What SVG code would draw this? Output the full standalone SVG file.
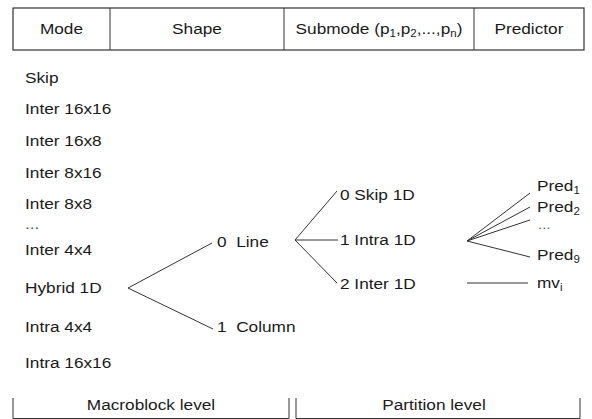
<svg xmlns="http://www.w3.org/2000/svg" width="592" height="419" viewBox="0 0 592 419">
  <style>
    text { font-family: "Liberation Sans", Arial, sans-serif; font-size: 15px; fill: #1a1a1a;
           transform-box: fill-box; transform: scaleX(1.15); }
    .s { transform-origin: left center; }
    .m { text-anchor: middle; transform-origin: center; }
    .sub { font-size: 10px; }
    .dots { font-size: 13px; fill: #555; }
    .ln { stroke: #333; stroke-width: 1; fill: none; }
    .box { stroke: #333; stroke-width: 1.2; fill: #fff; }
  </style>

  <!-- header table -->
  <g id="header">
    <rect class="box" x="13" y="8" width="571" height="42"/>
    <line class="ln" x1="110" y1="8" x2="110" y2="50"/>
    <line class="ln" x1="284" y1="8" x2="284" y2="50"/>
    <line class="ln" x1="474" y1="8" x2="474" y2="50"/>
    <text class="m" x="61.5" y="34">Mode</text>
    <text class="m" x="197" y="34">Shape</text>
    <text class="m" x="379" y="34">Submode (p<tspan class="sub" dy="3">1</tspan><tspan dy="-3">,p</tspan><tspan class="sub" dy="3">2</tspan><tspan dy="-3">,...,p</tspan><tspan class="sub" dy="3">n</tspan><tspan dy="-3">)</tspan></text>
    <text class="m" x="529" y="34">Predictor</text>
  </g>

  <!-- macroblock modes -->
  <g id="modes">
    <text class="s" x="25" y="83">Skip</text>
    <text class="s" x="25" y="114">Inter 16x16</text>
    <text class="s" x="25" y="146">Inter 16x8</text>
    <text class="s" x="25" y="178">Inter 8x16</text>
    <text class="s" x="25" y="209">Inter 8x8</text>
    <text class="s dots" x="25" y="229" style="font-size:15px">...</text>
    <text class="s" x="25" y="255">Inter 4x4</text>
    <text class="s" x="25" y="332">Intra 4x4</text>
    <text class="s" x="25" y="368">Intra 16x16</text>
  </g>
  <g id="hybrid"><text class="s" x="25" y="293">Hybrid 1D</text></g>

  <!-- shapes -->
  <g id="line"><text class="s" x="217" y="247" style="white-space:pre">0  Line</text></g>
  <g id="column"><text class="s" x="217" y="332" style="white-space:pre">1  Column</text></g>

  <!-- submodes -->
  <g id="skip1d"><text class="s" x="340" y="200">0 Skip 1D</text></g>
  <g id="intra1d"><text class="s" x="340" y="245">1 Intra 1D</text></g>
  <g id="inter1d"><text class="s" x="340" y="289">2 Inter 1D</text></g>

  <!-- predictors -->
  <g id="pred1"><text class="s" x="537" y="191">Pred<tspan class="sub" dy="3">1</tspan></text></g>
  <g id="pred2"><text class="s" x="537" y="212">Pred<tspan class="sub" dy="3">2</tspan></text></g>
  <g id="predDots"><text class="s dots" x="538" y="229">...</text></g>
  <g id="pred9"><text class="s" x="537" y="260">Pred<tspan class="sub" dy="3">9</tspan></text></g>
  <g id="mv"><text class="s" x="537" y="288">mv<tspan class="sub" dy="3">i</tspan></text></g>

  <!-- level brackets -->
  <g id="mbLevel">
    <path class="ln" d="M13,398 V418.5 H289 V398"/>
    <text class="m" x="151" y="410">Macroblock level</text>
  </g>
  <g id="partLevel">
    <path class="ln" d="M296,398 V418.5 H580 V398"/>
    <text class="m" x="434" y="410">Partition level</text>
  </g>

  <!-- tree connectors -->
  <g id="connectors" class="ln">
    <line class="ln" x1="128" y1="288" x2="212" y2="243"/>
    <line class="ln" x1="128" y1="288" x2="213" y2="329"/>
    <line class="ln" x1="295" y1="240" x2="337" y2="191"/>
    <line class="ln" x1="295" y1="240" x2="338" y2="240"/>
    <line class="ln" x1="295" y1="240" x2="337" y2="283"/>
    <line class="ln" x1="467" y1="241" x2="530" y2="193"/>
    <line class="ln" x1="467" y1="241" x2="530" y2="207"/>
    <line class="ln" x1="467" y1="241" x2="530" y2="220"/>
    <line class="ln" x1="467" y1="241" x2="530" y2="257"/>
    <line class="ln" x1="467" y1="283" x2="528" y2="283"/>
  </g>
</svg>
